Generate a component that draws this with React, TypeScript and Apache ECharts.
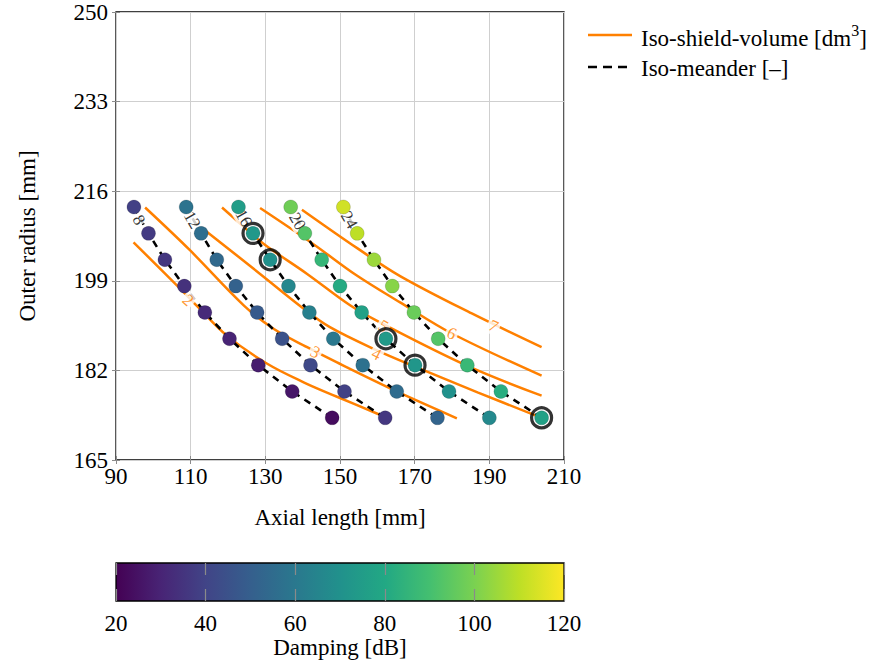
import React, { useEffect, useRef } from 'react';
import * as echarts from 'echarts';

// axis origins (ticks are counted from these)
const X0 = 90;
const Y0 = 165;
const X_MAX = 210;
const Y_MAX = 250;
const X_TICK_STEP = 20;
const Y_TICK_STEP = 17;

// outer radius rows [mm]
const OUTER_RADIUS = [213, 208, 203, 198, 193, 188, 183, 178, 173];
const MEANDERS = [8, 12, 16, 20, 24];

// axial length [mm] for each iso-meander, per outer-radius row
const LEN_M8 = [94.8, 98.7, 103.1, 108.3, 113.8, 120.4, 128.1, 137.2, 147.9];
const LEN_M12 = [108.8, 112.8, 117.0, 122.1, 127.8, 134.5, 142.1, 151.2, 162.1];
const LEN_M16 = [122.8, 126.7, 131.3, 136.2, 141.8, 148.2, 156.1, 165.2, 176.1];
const LEN_M20 = [136.8, 140.6, 145.1, 150.0, 155.8, 162.3, 170.1, 179.2, 190.0];
const LEN_M24 = [150.9, 154.6, 159.1, 164.0, 169.8, 176.3, 184.1, 193.1, 204.0];

// damping [dB]
const DAMP_M8 = [39, 37, 36, 34, 32, 30, 28, 26, 23];
const DAMP_M12 = [58, 56, 54, 51, 48, 45, 42, 39, 36];
const DAMP_M16 = [75, 73, 70, 66, 63, 60, 57, 55, 52];
const DAMP_M20 = [98, 93, 86, 81, 77, 74, 72, 70, 67];
const DAMP_M24 = [113, 110, 105, 102, 97, 93, 87, 82, 77];

// highlighted designs: [meander index, row index]
const HIGHLIGHTED = [[2, 1], [2, 2], [3, 5], [3, 6], [4, 8]];

// iso-shield-volume contours [axial length, outer radius]
const ISO_V2 = [[94.7, 206.3], [107.9, 197.0], [112.0, 194.0], [119.7, 188.6], [130.4, 183.3], [140.4, 179.7], [149.2, 177.0], [161.3, 173.4]];
const ISO_V3 = [[97.8, 212.9], [109.8, 204.8], [124.2, 194.35], [132.2, 189.9], [141.2, 186.4], [149.2, 183.5], [165.2, 178.0], [181.3, 172.9]];
const ISO_V4 = [[113.8, 208.6], [128.6, 200.3], [140.1, 193.8], [147.3, 190.2], [159.9, 185.8], [170.1, 182.7], [187.0, 177.8], [204.0, 173.0]];
const ISO_V5 = [[118.4, 212.9], [122.4, 210.4], [129.6, 206.0], [141.2, 200.3], [152.7, 194.35], [160.2, 191.3], [184.0, 182.9], [204.0, 177.2]];
const ISO_V6 = [[128.6, 212.8], [142.8, 206.0], [154.3, 200.1], [166.1, 194.9], [180.0, 189.0], [204.0, 181.0]];
const ISO_V7 = [[139.8, 212.5], [154.6, 205.2], [166.1, 199.9], [185.3, 192.8], [204.0, 186.4]];
const ISO_VOLUMES = [2, 3, 4, 5, 6, 7];

// contour label anchors [axial length, outer radius, angle]
const VOL_LABEL_POS = [[109.3, 195.3, -42], [143.4, 185.45, -28], [159.8, 185.1, -27], [161.6, 190.4, -30], [179.9, 189.0, -26], [191.1, 190.4, -25]];
const MEANDER_LABEL_POS = [[96.1, 210.55], [110.4, 210.55], [124.2, 210.9], [138.6, 210.3], [152.5, 210.55]];

const CBAR_MIN = 20;
const CBAR_MAX = 120;
const CBAR_STEP = 20;

const VIRIDIS = ['#440154', '#482475', '#414487', '#355f8d', '#2a788e', '#21918c', '#22a884', '#44bf70', '#7ad151', '#bddf26', '#fde725'];

const FONT = '"Liberation Serif", "Times New Roman", "DejaVu Serif", serif';
const ORANGE = '#ff8000';

export default function App() {
  const ref = useRef<HTMLDivElement>(null);

  useEffect(() => {
    const chart = echarts.init(ref.current!, null, { renderer: 'svg' });
    const lens = [LEN_M8, LEN_M12, LEN_M16, LEN_M20, LEN_M24];
    const damps = [DAMP_M8, DAMP_M12, DAMP_M16, DAMP_M20, DAMP_M24];
    const isos = [ISO_V2, ISO_V3, ISO_V4, ISO_V5, ISO_V6, ISO_V7];
    const sh = (x: number, y: number) => [x - X0, y - Y0];

    const series: any[] = [];
    isos.forEach((c, i) => {
      series.push({
        type: 'line', xAxisIndex: 0, yAxisIndex: 0, name: 'v' + ISO_VOLUMES[i],
        data: c.map((p) => sh(p[0], p[1])), smooth: 0.35, symbol: 'none', silent: true, z: 2,
        lineStyle: { color: ORANGE, width: 2.5 },
      });
    });
    lens.forEach((l, i) => {
      series.push({
        type: 'line', xAxisIndex: 0, yAxisIndex: 0, name: 'm' + MEANDERS[i],
        data: l.map((x, j) => sh(x, OUTER_RADIUS[j])), symbol: 'none', silent: true, z: 2,
        lineStyle: { color: '#000', width: 2.6, type: [7, 6] },
      });
    });
    series.push({
      type: 'scatter', xAxisIndex: 0, yAxisIndex: 0, silent: true, z: 3, symbolSize: 1,
      itemStyle: { color: 'rgba(0,0,0,0)' },
      data: VOL_LABEL_POS.map((p, i) => ({ name: String(ISO_VOLUMES[i]), value: sh(p[0], p[1]), label: { rotate: p[2] } })),
      label: { show: true, position: 'inside', formatter: '{b}', color: ORANGE, fontFamily: FONT, fontSize: 17, backgroundColor: '#fff', padding: [0, 2] },
    });
    series.push({
      type: 'scatter', xAxisIndex: 0, yAxisIndex: 0, silent: true, z: 3, symbolSize: 1,
      itemStyle: { color: 'rgba(0,0,0,0)' },
      data: MEANDER_LABEL_POS.map((p, i) => ({ name: String(MEANDERS[i]), value: sh(p[0], p[1]), label: { rotate: -60 } })),
      label: { show: true, position: 'inside', formatter: '{b}', color: '#000', fontFamily: FONT, fontSize: 17, backgroundColor: '#fff', padding: [0, 1] },
    });
    const pointIdx = series.length;
    const pts: number[][] = [];
    lens.forEach((l, i) => l.forEach((x, j) => pts.push([x - X0, OUTER_RADIUS[j] - Y0, damps[i][j]])));
    series.push({
      type: 'scatter', xAxisIndex: 0, yAxisIndex: 0, silent: true, z: 4, symbolSize: 14,
      itemStyle: { borderColor: 'rgba(0,0,0,0.15)', borderWidth: 1, opacity: 1 },
      data: pts,
    });
    series.push({
      type: 'scatter', xAxisIndex: 0, yAxisIndex: 0, silent: true, z: 5, symbolSize: 20,
      itemStyle: { color: 'rgba(0,0,0,0)', borderColor: '#000', borderWidth: 3.2 },
      data: HIGHLIGHTED.map(([m, r]) => sh(lens[m][r], OUTER_RADIUS[r])),
    });
    series.push({ type: 'scatter', xAxisIndex: 1, yAxisIndex: 1, data: [], silent: true });

    const stops = VIRIDIS.map((c, i) => ({ offset: i / (VIRIDIS.length - 1), color: c }));

    const txt = { fontFamily: FONT, fontSize: 23, color: '#000' };
    const nameTxt = { fontFamily: FONT, fontSize: 23, color: '#000' };
    const frameTick = { show: true, inside: true, length: 4, lineStyle: { color: '#8c8c8c', width: 1 } };

    chart.setOption({
      animation: false,
      backgroundColor: '#fff',
      textStyle: { fontFamily: FONT },
      grid: [
        { left: 116, top: 12, width: 448, height: 448, show: true, borderColor: '#000', borderWidth: 1.3, backgroundColor: 'transparent', z: 0 },
        { left: 116, top: 563, width: 448, height: 38, show: false },
      ],
      xAxis: [
        {
          type: 'value', gridIndex: 0, min: 0, max: X_MAX - X0, interval: X_TICK_STEP,
          axisLine: { show: false }, axisTick: frameTick,
          splitLine: { show: true, lineStyle: { color: '#cfcfcf', width: 1 } },
          axisLabel: { ...txt, margin: 5, formatter: (v: number) => String(v + X0) },
          name: 'Axial length [mm]', nameLocation: 'middle', nameGap: 46,
          nameTextStyle: nameTxt,
        },
        {
          type: 'value', gridIndex: 1, min: CBAR_MIN, max: CBAR_MAX, interval: CBAR_STEP, z: 10,
          axisLine: { show: false },
          axisTick: { show: true, inside: true, length: 12, lineStyle: { color: '#8a8a8a', width: 1.2 } },
          splitLine: { show: false },
          axisLabel: { ...txt, margin: 11 },
          name: 'Damping [dB]', nameLocation: 'middle', nameGap: 34,
          nameTextStyle: nameTxt,
        },
        {
          type: 'value', gridIndex: 1, position: 'top', min: CBAR_MIN, max: CBAR_MAX, interval: CBAR_STEP, z: 10,
          axisLine: { show: false },
          axisTick: { show: true, inside: true, length: 12, lineStyle: { color: '#8a8a8a', width: 1.2 } },
          splitLine: { show: false }, axisLabel: { show: false },
        },
        {
          type: 'value', gridIndex: 0, position: 'top', min: 0, max: X_MAX - X0, interval: X_TICK_STEP,
          axisLine: { show: false }, axisTick: frameTick, splitLine: { show: false }, axisLabel: { show: false },
        },
      ],
      yAxis: [
        {
          type: 'value', gridIndex: 0, min: 0, max: Y_MAX - Y0, interval: Y_TICK_STEP,
          axisLine: { show: false }, axisTick: frameTick,
          splitLine: { show: true, lineStyle: { color: '#cfcfcf', width: 1 } },
          axisLabel: { ...txt, margin: 8, formatter: (v: number) => String(v + Y0) },
          name: 'Outer radius [mm]', nameLocation: 'middle', nameGap: 77,
          nameTextStyle: nameTxt,
        },
        { type: 'value', gridIndex: 1, min: 0, max: 1, show: false },
        {
          type: 'value', gridIndex: 0, position: 'right', min: 0, max: Y_MAX - Y0, interval: Y_TICK_STEP,
          axisLine: { show: false }, axisTick: frameTick, splitLine: { show: false }, axisLabel: { show: false },
        },
      ],
      visualMap: {
        type: 'continuous', show: false, min: CBAR_MIN, max: CBAR_MAX, dimension: 2,
        seriesIndex: pointIdx, inRange: { color: VIRIDIS },
      },
      graphic: [
        {
          type: 'rect', z: 1, silent: true,
          shape: { x: 116, y: 563, width: 448, height: 38 },
          style: { fill: new echarts.graphic.LinearGradient(0, 0, 1, 0, stops), stroke: '#000', lineWidth: 1.3 },
        },
        { type: 'line', z: 2, silent: true, shape: { x1: 588, y1: 35, x2: 632, y2: 35 }, style: { stroke: ORANGE, lineWidth: 2.6 } },
        { type: 'line', z: 2, silent: true, shape: { x1: 588, y1: 67, x2: 628, y2: 67 }, style: { stroke: '#000', lineWidth: 2.6, lineDash: [9, 6] } },
        {
          type: 'text', z: 2, silent: true, x: 641, y: 36,
          style: {
            text: '{a|Iso-shield-volume [dm}{s|3}{a|]}', verticalAlign: 'middle', align: 'left',
            rich: {
              a: { fontFamily: FONT, fontSize: 23, fill: '#000', lineHeight: 27, verticalAlign: 'bottom' },
              s: { fontFamily: FONT, fontSize: 16, fill: '#000', lineHeight: 27, verticalAlign: 'top' },
            },
          },
        },
        {
          type: 'text', z: 2, silent: true, x: 641, y: 68,
          style: { text: 'Iso-meander [\u2013]', verticalAlign: 'middle', align: 'left', fontFamily: FONT, fontSize: 23, fill: '#000' },
        },
      ],
      series,
    });
    return () => chart.dispose();
  }, []);

  return <div ref={ref} style={{ position: 'fixed', left: 0, top: 0, width: 883, height: 667, background: '#fff' }} />;
}
